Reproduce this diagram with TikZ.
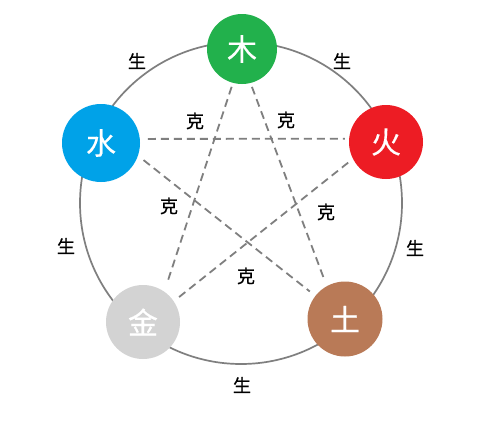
\documentclass[tikz,border=0pt]{standalone}
\usepackage{fontspec}
\setmainfont{Noto Sans CJK SC}
\newfontfamily\labfont{Noto Sans CJK SC}[FakeBold=0.6]
\newfontfamily\elemfont{Noto Sans CJK SC}[FakeBold=0.4]
\definecolor{linegray}{HTML}{7F7F7F}
\definecolor{cmu}{HTML}{22B14C}
\definecolor{cshui}{HTML}{00A2E8}
\definecolor{chuo}{HTML}{ED1C24}
\definecolor{cjin}{HTML}{D3D3D3}
\definecolor{ctu}{HTML}{B97A57}
\begin{document}
\begin{tikzpicture}[x=1pt,y=-1pt,
  elem/.style={circle, inner sep=0pt, text=white, font=\elemfont\fontsize{30}{30}\selectfont},
  lab/.style={font=\labfont\fontsize{18}{18}\selectfont, text=black, inner sep=0pt},
  ke/.style={draw=linegray, line width=1.8pt, dash pattern=on 8pt off 5pt}]
\useasboundingbox (0,0) rectangle (500,424);
\fill[white] (0,0) rectangle (500,424);
\coordinate (o) at (241,203);
\draw[linegray, line width=1.7pt] (o) circle[radius=161];
\node[elem, fill=cmu, minimum size=70pt] (mu) at (242,49) {木};
\node[elem, fill=cshui, minimum size=78pt] (shui) at (101,143) {水};
\node[elem, fill=chuo, minimum size=74pt] (huo) at (386,142) {火};
\node[elem, fill=cjin, minimum size=74pt] (jin) at (143,322) {金};
\node[elem, fill=ctu, minimum size=75pt] (tu) at (345,319) {土};
\draw[ke, shorten <=4pt, shorten >=12pt] (mu.255) -- (jin.55);
\draw[ke, shorten <=4pt, shorten >=8pt] (mu.284) -- (tu.119);
\draw[ke, shorten <=8pt, shorten >=4pt] (shui.6) -- (huo.175);
\draw[ke, shorten <=7pt, shorten >=7pt] (shui.341) -- (tu.142);
\draw[ke, shorten <=6pt, shorten >=6pt] (huo.207) -- (jin.34);
\node[lab] (s1) at (137,61) {生};
\node[lab] (s2) at (342,61) {生};
\node[lab] (s3) at (66,246) {生};
\node[lab] (s4) at (415,248) {生};
\node[lab] (s5) at (242,385) {生};
\node[lab] (k1) at (195,121) {克};
\node[lab] (k2) at (286,120) {克};
\node[lab] (k3) at (169,206) {克};
\node[lab] (k4) at (326,212) {克};
\node[lab] (k5) at (246,276) {克};
\end{tikzpicture}
\end{document}
